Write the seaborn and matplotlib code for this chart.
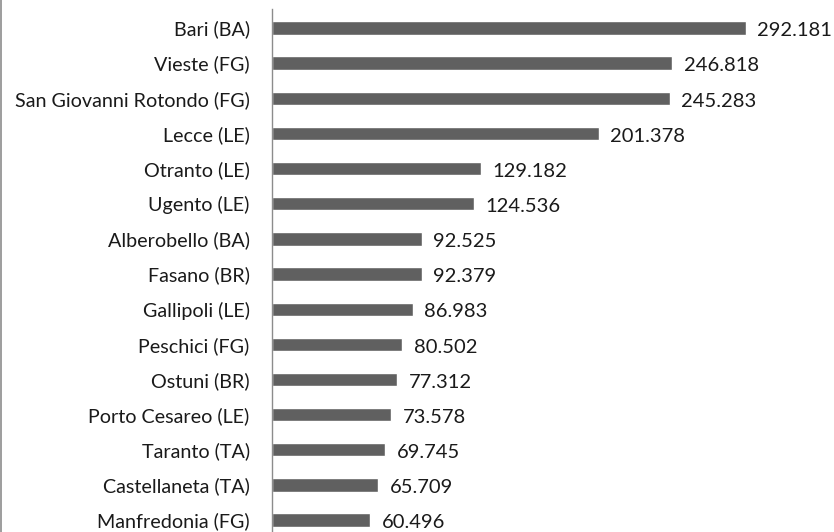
import matplotlib
matplotlib.use("Agg")
import pandas as pd
import seaborn as sns
import matplotlib.pyplot as plt
from matplotlib.lines import Line2D

towns = ["Bari (BA)", "Vieste (FG)", "San Giovanni Rotondo (FG)", "Lecce (LE)",
         "Otranto (LE)", "Ugento (LE)", "Alberobello (BA)", "Fasano (BR)",
         "Gallipoli (LE)", "Peschici (FG)", "Ostuni (BR)", "Porto Cesareo (LE)",
         "Taranto (TA)", "Castellaneta (TA)", "Manfredonia (FG)"]
arrivals = [292181, 246818, 245283, 201378, 129182, 124536, 92525, 92379,
            86983, 80502, 77312, 73578, 69745, 65709, 60496]

df = pd.DataFrame({"town": towns, "value": arrivals})

sns.set_style("white")
plt.rcParams["font.family"] = ["Lato", "DejaVu Sans"]

fig = plt.figure(figsize=(8.34, 5.32), dpi=100)
ax = fig.add_axes([0.326, 0.0, 0.674, 0.983])

sns.barplot(data=df, x="value", y="town", color="#606060", saturation=1,
            width=0.38, ax=ax, orient="h")

ax.set_xlim(0, 346500)
ax.set_ylim(14.34, -0.54)
ax.set_xlabel("")
ax.set_ylabel("")
ax.set_xticks([])
for side in ["top", "right", "bottom"]:
    ax.spines[side].set_visible(False)
ax.spines["left"].set_color("#8c8c8c")
ax.spines["left"].set_linewidth(1.0)
ax.tick_params(axis="y", length=0, pad=16, labelsize=14.2, labelcolor="#1a1a1a")

for i, v in enumerate(arrivals):
    lab = f"{v:,}".replace(",", ".")
    ax.text(v + 7000, i + 0.08, lab, va="center", ha="left",
            fontsize=14.5, color="#1a1a1a")

fig.add_artist(Line2D([0.0015, 0.0015], [0, 1], transform=fig.transFigure,
                      color="#8c8c8c", linewidth=1.2))

fig.savefig("out.png", dpi=100)
